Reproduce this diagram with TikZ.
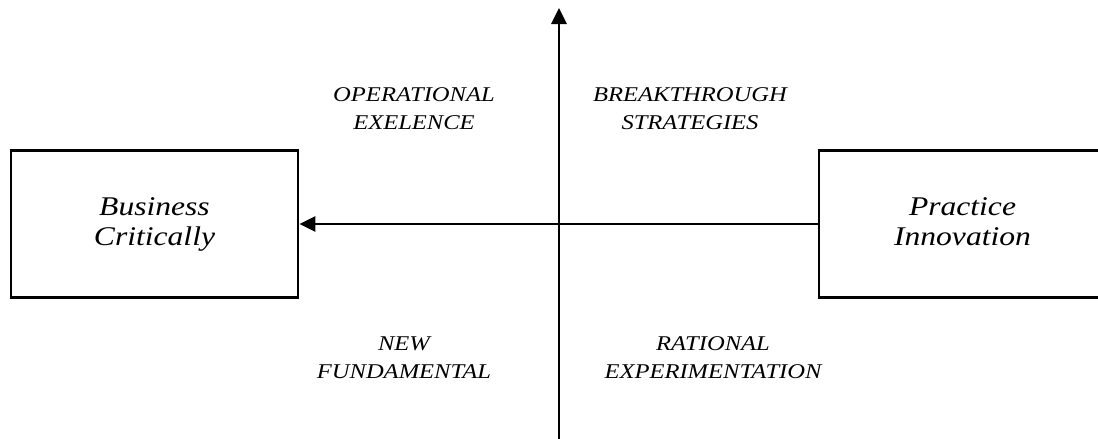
\documentclass[tikz,border=0pt]{standalone}
\usepackage{fontspec}
\setmainfont{Liberation Serif}
\newfontfamily\widefont[FakeStretch=1.17, ItalicFont={Liberation Serif Italic}]{Liberation Serif}
\usetikzlibrary{arrows.meta}
\tikzstyle{arrow} = [line width=2.8pt,-{Triangle[length=16pt,width=15pt]}]
\tikzstyle{sidebox} = [rectangle, draw=black, line width=2.8pt, minimum width=287pt, minimum height=147pt, text centered, align=center, font=\widefont\itshape\fontsize{27}{30}\selectfont]
\tikzstyle{quadrant} = [align=center, font=\widefont\itshape\fontsize{21}{28}\selectfont]

\begin{document}
\begin{tikzpicture}[x=1pt,y=-1pt]
    \useasboundingbox (0,0) rectangle (1098,439);
    \node (business) [sidebox] at (154.5,224) {\strut Business\\\strut Critically};
    \node (practice) [sidebox] at (962.5,224) {\strut Practice\\\strut Innovation};

    \coordinate (axisbottom) at (559,439);
    \coordinate (axistop) at (559,8);
    \draw[arrow] (axisbottom) -- (axistop);
    \draw[arrow] (practice) -- (business);

    \node (operational) [quadrant] at (414,109.5) {\strut OPERATIONAL\\\strut EXELENCE};
    \node (breakthrough) [quadrant] at (690,109.5) {\strut BREAKTHROUGH\\\strut STRATEGIES};
    \node (fundamental) [quadrant] at (404,359) {\strut NEW\\\strut FUNDAMENTAL};
    \node (rational) [quadrant] at (713,359) {\strut RATIONAL\\\strut EXPERIMENTATION};
\end{tikzpicture}
\end{document}
